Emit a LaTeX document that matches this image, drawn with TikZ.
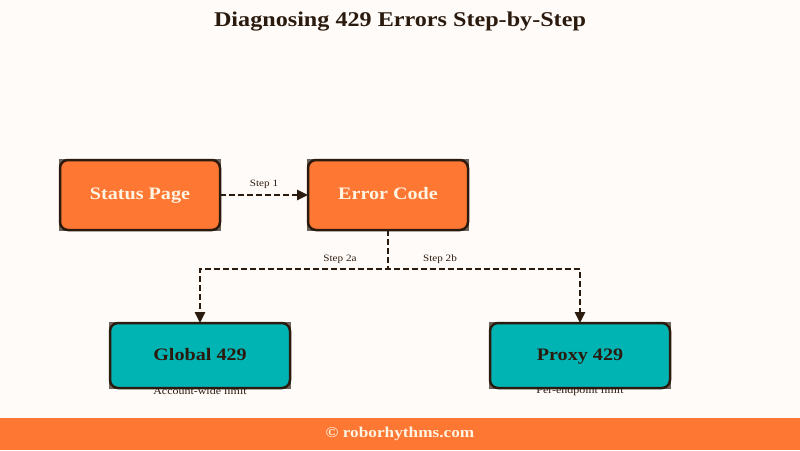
\documentclass[tikz,border=0pt]{standalone}
\usepackage{fontspec}
\setmainfont[FakeStretch=1.15]{Liberation Serif}
\usetikzlibrary{arrows.meta,backgrounds}
\definecolor{bg}{HTML}{FFFBF8}
\definecolor{orng}{HTML}{FE7733}
\definecolor{teal2}{HTML}{00B4B4}
\definecolor{dark}{HTML}{2B1A0E}
\definecolor{cream}{HTML}{FFF3E2}
\definecolor{mark}{HTML}{6E625A}
\begin{document}
\begin{tikzpicture}[x=1pt,y=-1pt,
  box/.style={draw=dark,line width=2.5pt,outer sep=0pt,rounded corners=8pt,minimum width=160pt,minimum height=70pt,text height=12pt,text depth=3pt,font=\fontsize{17.5}{20}\selectfont\bfseries},
  obox/.style={box,fill=orng,text=cream},
  tbox/.style={box,fill=teal2,text=dark,minimum width=180pt,minimum height=65pt},
  cornermark/.style={draw=mark,line width=1.4pt},
  conn/.style={draw=dark,line width=2.5pt,dash pattern=on 6pt off 3pt,-{Triangle[length=11pt,width=10pt]}},
  lbl/.style={font=\fontsize{9.7}{11}\selectfont,text=dark},
  sub/.style={font=\fontsize{10.4}{12}\selectfont,text=dark}]
\begin{scope}[on background layer]
\fill[bg] (0,0) rectangle (800,450);
\end{scope}
\useasboundingbox (0,0) rectangle (800,450);
\node[font=\fontsize{21}{24}\selectfont\bfseries,text=dark] (title) at (400,22) {Diagnosing 429 Errors Step-by-Step};
\node[sub] (subg) at (200,390.5) {Account-wide limit};
\node[sub] (subp) at (580,390.5) {Per-endpoint limit};
\node[obox] (status) at (140,195) {Status Page};
\node[obox] (error) at (388,195) {Error Code};
\node[tbox] (global) at (200,355.5) {Global 429};
\node[tbox] (proxy) at (580,355.5) {Proxy 429};
\begin{scope}[on background layer]
\foreach \b in {status,error,global,proxy}
  \draw[cornermark] (\b.south west) rectangle (\b.north east);
\end{scope}
\coordinate (split) at (388,269);
\draw[conn] (status) -- node[lbl,above=2pt] (s1) {Step 1} (error);
\draw[conn] (error.south) -- (split) -| (global.north);
\draw[conn] (error.south) -- (split) -| (proxy.north);
\node[lbl] (s2a) at (340,259) {Step 2a};
\node[lbl] (s2b) at (440,259) {Step 2b};
\fill[orng] (0,418) rectangle (800,450);
\node[font=\fontsize{15}{17}\selectfont\bfseries,text=cream] (foot) at (400,434) {© roborhythms.com};
\end{tikzpicture}
\end{document}
